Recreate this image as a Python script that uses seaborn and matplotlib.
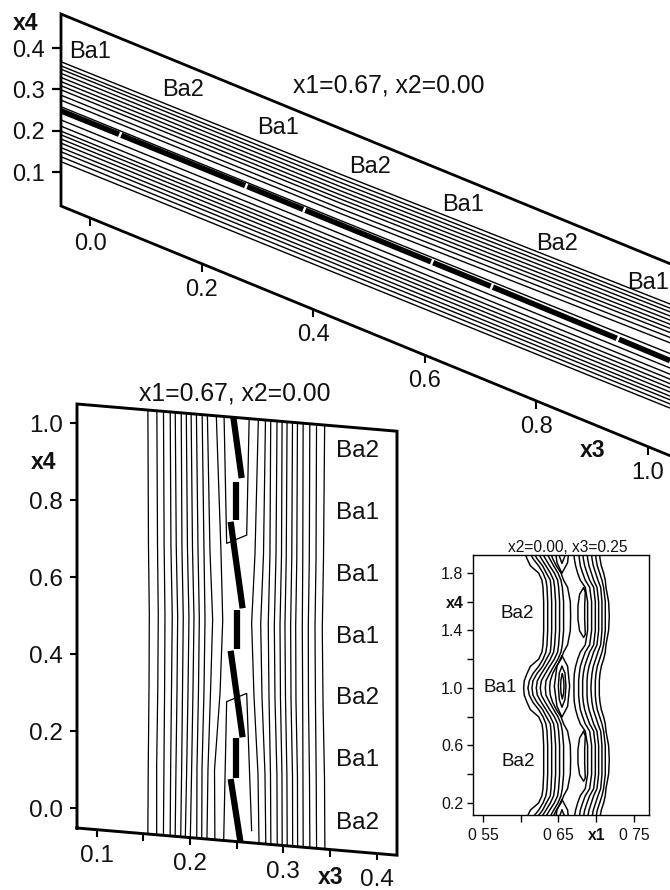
import numpy as np
import matplotlib
matplotlib.use("Agg")
import matplotlib.pyplot as plt
from matplotlib.transforms import Affine2D
from matplotlib.patches import Polygon
import seaborn as sns

sns.set_theme(style="white")
plt.rcParams['font.family'] = ['Liberation Sans', 'DejaVu Sans']

# ---------- panel A: x3 / x4 contour lines ----------
A_X3 = [-0.052, 0.448, 1.0394]
A_THIN = [
    [.367, .372, .385], [.357, .362, .375], [.349, .352, .366], [.339, .342, .356],
    [.329, .332, .346], [.319, .322, .336], [.309, .312, .326], [.299, .302, .316],
    [.286, .289, .304], [.274, .277, .291], [.258, .260, .265],
    [.226, .228, .230], [.211, .213, .215], [.199, .201, .203], [.190, .191, .192],
    [.180, .181, .182], [.170, .171, .172], [.159, .160, .162], [.149, .150, .153],
    [.137, .139, .143], [.125, .128, .133],
]
A_THICK_X3 = [[-.052, .052], [.056, .278], [.282, .382], [.386, .611], [.615, .718], [.722, .944], [.948, 1.0394]]
A_THICK_X4 = [[.248, .249], [.249, .250], [.250, .250], [.250, .250], [.250, .250], [.250, .249], [.249, .248]]
A_XTICKS = [0.0, 0.2, 0.4, 0.6, 0.8, 1.0]
A_YTICKS = [0.1, 0.2, 0.3, 0.4]

# ---------- panel B: x3 / x4 contour lines ----------
B_X4 = [1.15, .70, .52, .33, .13, -.10]
B_LEFT = [
    [.1547, .1555, .1564, .1561, .1553, .1547], [.1643, .1652, .1660, .1655, .1643, .1643],
    [.1714, .1723, .1732, .1728, .1721, .1714], [.1786, .1796, .1810, .1802, .1793, .1786],
    [.1839, .1853, .1868, .1861, .1850, .1839], [.1904, .1914, .1928, .1920, .1911, .1898],
    [.1957, .1973, .1989, .1979, .1965, .1946], [.2008, .2027, .2043, .2032, .2018, .2000],
    [.2064, .2086, .2100, .2091, .2075, .2072], [.2125, .2150, .2161, .2150, .2129, .2125],
    [.2179, .2214, .2243, .2220, .2193, .2179], [.2268, .2332, .2351, .2322, .2263, .2268],
]
B_RIGHT = [
    [.2743, .2697, .2661, .2686, .2729, .2743], [.2815, .2788, .2758, .2772, .2804, .2815],
    [.2868, .2857, .2839, .2847, .2863, .2868], [.2936, .2922, .2904, .2911, .2932, .2936],
    [.2989, .2981, .2965, .2970, .2986, .2989], [.3043, .3032, .3018, .3024, .3039, .3043],
    [.3101, .3091, .3079, .3083, .3099, .3101], [.3154, .3145, .3133, .3136, .3152, .3154],
    [.3214, .3209, .3204, .3208, .3211, .3214], [.3286, .3279, .3268, .3270, .3281, .3286],
    [.3358, .3351, .3340, .3345, .3353, .3358], [.3447, .3431, .3418, .3426, .3442, .3447],
]
B_LOOP_UP_X3 = [.2357, .2393, .2608, .2643]
B_LOOP_UP_X4 = [1.15, .721, .747, 1.15]
B_LOOP_LOW_X3 = [.2357, .2393, .2608, .2661]
B_LOOP_LOW_X4 = [-.10, .310, .336, -.02]
B_THICK = [
    ([.2464, .2554], [1.052, .894]), ([.2496, .2496], [.883, .784]),
    ([.2436, .2564], [.778, .556]), ([.2500, .2500], [.550, .448]),
    ([.2436, .2564], [.443, .221]), ([.2493, .2493], [.217, .113]),
    ([.2436, .2540], [.110, -.050]),
]
B_XTICKS = [0.10, 0.15, 0.20, 0.25, 0.30, 0.35, 0.40]
B_XLABELS = ['0.1', '', '0.2', '', '0.3', '', '0.4']
B_YTICKS = [0.0, 0.2, 0.4, 0.6, 0.8, 1.0]
B_BA = ['Ba2', 'Ba1', 'Ba1', 'Ba1', 'Ba2', 'Ba1', 'Ba2']

# ---------- panel C: x1 / x4 contours (half period, mirrored about x4 = 0.5 and 1.0) ----------
C_H = [.5, .6, .7, .75, .8, .85, .9, .95, 1.0]
C_LEFT = [
    [.6304, .6304, .6295, .6281, .6237, .6127, .6083, .6047, .6039],
    [.6357, .6357, .6348, .6334, .6295, .6237, .6162, .6114, .6096],
    [.6410, .6410, .6401, .6392, .6339, .6290, .6215, .6162, .6149],
    [.6462, .6462, .6449, .6436, .6392, .6334, .6273, .6220, .6206],
    [.6515, .6515, .6502, .6489, .6445, .6383, .6326, .6273, .6259],
    [.6568, .6568, .6551, .6533, .6493, .6436, .6383, .6334, .6326],
    [.6661, .6657, .6621, .6568, .6533, .6471, .6423, .6392, .6383],
]
C_RIGHT = [
    [.6886, .6886, .6855, .6789, .6754, .6727, .6710, .6705, .6705],
    [.6939, .6939, .6913, .6855, .6820, .6789, .6776, .6767, .6767],
    [.6988, .6988, .6966, .6913, .6878, .6847, .6829, .6820, .6820],
    [.7032, .7032, .7010, .6966, .6935, .6904, .6886, .6878, .6878],
    [.7076, .7076, .7059, .7023, .6992, .6961, .6944, .6935, .6930],
    [.7120, .7120, .7098, .7076, .7045, .7014, .6997, .6988, .6988],
    [.7173, .7164, .7129, .7120, .7098, .7067, .7050, .7041, .7041],
]
C_OVAL_X = [.6833, .6780, .6758, .6758, .6780, .6833, .6855, .6847, .6847, .6855, .6833]
C_OVAL_Y = [.699, .652, .571, .478, .397, .351, .374, .478, .571, .664, .699]
C_RING1_X = [.6546, .6621, .6648, .6621, .6546, .6480, .6445, .6480, .6546]
C_RING1_Y = [1.225, 1.151, 1.012, .872, .798, .872, 1.012, 1.151, 1.225]
C_RING2_X = [.6546, .6586, .6599, .6586, .6546, .6511, .6498, .6511, .6546]
C_RING2_Y = [1.151, 1.104, 1.012, .919, .866, .919, 1.012, 1.104, 1.151]
C_RING3_X = [.6551, .6568, .6573, .6568, .6551, .6533, .6529, .6533, .6551]
C_RING3_Y = [1.100, 1.058, 1.012, .965, .923, .965, 1.012, 1.058, 1.100]
C_XTICKS = [0.55, 0.60, 0.65, 0.70, 0.75]
C_XLABELS = ['0 55', '', '0 65', 'x1', '0 75']
C_YTICKS = [0.2, 0.4, 0.6, 0.8, 1.0, 1.2, 1.4, 1.6, 1.8]
C_YLABELS = ['0.2', '', '0.6', '', '1.0', '', '1.4', 'x4', '1.8']

W, H = 670, 890
fig = plt.figure(figsize=(W / 100, H / 100), dpi=100)
fig.patch.set_facecolor('white')


def make_axes(x0, x1, y0, y1):
    ax = fig.add_axes([x0 / W, 1 - y1 / H, (x1 - x0) / W, (y1 - y0) / H])
    ax.patch.set_visible(False)
    for s in ax.spines.values():
        s.set_visible(False)
    return ax


def draw(ax, x, y, lw, tr=None, clip=None, **kw):
    if tr is not None:
        kw['transform'] = tr
    sns.lineplot(x=np.asarray(x, float), y=np.asarray(y, float), sort=False, estimator=None,
                 color='black', linewidth=lw, ax=ax, legend=False, **kw)
    line = ax.lines[-1]
    if clip is not None:
        line.set_clip_path(clip)
    else:
        line.set_clip_on(False)
    return line


def label(px, py, s, size, **kw):
    fig.text(px / W, 1 - py / H, s, fontsize=size, ha='center', va='center', color='#111111', **kw)


def bottom_ticks(ax, tr, xs, labels, bottom, offs, size):
    ys = [bottom] * len(xs)
    ax.plot(xs, ys, ls='', marker=3, ms=offs[0], mew=offs[1], color='black', transform=tr, clip_on=False)
    for v, yv, s in zip(xs, ys, labels):
        if s:
            ax.annotate(s, xy=(v, yv), xycoords=tr, xytext=(0, offs[2]), textcoords='offset points',
                        ha='center', va='center', fontsize=size, color='#111111')


def finish(ax, xlim, ylim):
    ax.set_xlim(*xlim)
    ax.set_ylim(*ylim)
    ax.set_xlabel('')
    ax.set_ylabel('')


# ===== panel A =====
axA = make_axes(61, 670, 14, 456)
a_xmin, a_xmax = -0.052, 1.0394
a_top, a_bot = 0.4826, 0.0177
a_s = 0.554
trA = Affine2D.from_values(1, -a_s, 0, 1, 0, a_s * a_xmin) + axA.transData
clipA = Polygon([(a_xmin, a_bot), (a_xmax, a_bot), (a_xmax, a_top), (a_xmin, a_top)], transform=trA)
for row in A_THIN:
    draw(axA, A_X3, row, 1.0, tr=trA, clip=clipA)
for xs, ys in zip(A_THICK_X3, A_THICK_X4):
    draw(axA, xs, ys, 4.0, tr=trA, clip=clipA, solid_capstyle='butt')
draw(axA, [a_xmax, a_xmin, a_xmin, a_xmax], [a_top, a_top, a_bot, a_bot], 2.0, tr=trA,
     solid_joinstyle='miter')
finish(axA, (a_xmin, a_xmax), (-0.5877, a_top))
axA.set_xticks([])
axA.set_yticks(A_YTICKS, [f'{v:.1f}' for v in A_YTICKS])
axA.tick_params(axis='y', left=True, length=6.5, width=1.6, pad=5.0, labelsize=17, color='black', labelcolor='#111111')
bottom_ticks(axA, trA, A_XTICKS, [f'{v:.1f}' for v in A_XTICKS], a_bot, (5.5, 1.5, -18.7), 17)

for (px, py, s) in [(90, 52, 'Ba1'), (183, 90, 'Ba2'), (278, 128, 'Ba1'), (370, 167, 'Ba2'),
                    (463, 205, 'Ba1'), (557, 244, 'Ba2'), (648, 283, 'Ba1')]:
    label(px, py, s, 17)
label(389, 85, 'x1=0.67, x2=0.00', 17.8)
label(26, 24, 'x4', 16.5, fontweight='bold')
label(593, 451, 'x3', 16.5, fontweight='bold')

# ===== panel B =====
axB = make_axes(77, 397, 404, 855)
b_xmin, b_xmax = 0.0789, 0.4219
b_top, b_bot = 1.05, -0.0512
b_s = 0.206
trB = Affine2D.from_values(1, -b_s, 0, 1, 0, b_s * b_xmin) + axB.transData
clipB = Polygon([(b_xmin, b_bot), (b_xmax, b_bot), (b_xmax, b_top), (b_xmin, b_top)], transform=trB)
for row in B_LEFT + B_RIGHT:
    draw(axB, row, B_X4, 0.9, tr=trB, clip=clipB)
draw(axB, B_LOOP_UP_X3, B_LOOP_UP_X4, 0.9, tr=trB, clip=clipB, solid_joinstyle='miter')
draw(axB, B_LOOP_LOW_X3, B_LOOP_LOW_X4, 0.9, tr=trB, clip=clipB, solid_joinstyle='miter')
for xs, ys in B_THICK:
    draw(axB, xs, ys, 4.5, tr=trB, clip=clipB, solid_capstyle='butt')
draw(axB, [b_xmin, b_xmax, b_xmax, b_xmin, b_xmin],
     [b_bot, b_bot, b_top, b_top, b_bot], 2.1, tr=trB, solid_joinstyle='miter', solid_capstyle='projecting')
finish(axB, (b_xmin, b_xmax), (-0.1213, b_top))
axB.set_xticks([])
axB.set_yticks(B_YTICKS, [f'{v:.1f}' for v in B_YTICKS])
axB.tick_params(axis='y', left=True, length=5, width=1.5, pad=5.2, labelsize=17.5, color='black', labelcolor='#111111')
bottom_ticks(axB, trB, B_XTICKS, B_XLABELS, b_bot, (5, 1.5, -19.3), 17.5)

for py, s in zip([451, 513, 575, 637, 698, 760, 823], B_BA):
    label(358, py, s, 17.5)
label(235, 394, 'x1=0.67, x2=0.00', 17.8)
label(44, 463, 'x4', 16.5, fontweight='bold')
label(331, 877, 'x3', 16.5, fontweight='bold')


# ===== panel C =====
axC = make_axes(473, 649, 555, 815)


def full_period(row):
    r = np.asarray(row, float)
    h = np.asarray(C_H, float)
    xs = np.concatenate([r[::-1], r[1:], r[::-1][1:], r[1:]])
    ys = np.concatenate([1 - h[::-1], h[1:], 2 - h[::-1][1:], 1 + h[1:]])
    return xs, ys


for row in C_LEFT + C_RIGHT:
    xs, ys = full_period(row)
    line = draw(axC, xs, ys, 1.05, clip=None)
    line.set_clip_on(True)
for dy in (0.0, 1.0):
    line = draw(axC, C_OVAL_X, np.asarray(C_OVAL_Y) + dy, 1.05)
    line.set_clip_on(True)
for dy in (-1.0, 0.0, 1.0):
    for rx, ry in ((C_RING1_X, C_RING1_Y), (C_RING2_X, C_RING2_Y), (C_RING3_X, C_RING3_Y)):
        line = draw(axC, rx, np.asarray(ry) + dy, 1.05)
        line.set_clip_on(True)
finish(axC, (0.5368, 0.7699), (0.1165, 1.925))
for s in axC.spines.values():
    s.set_visible(True)
    s.set_linewidth(1.0)
    s.set_color('black')
axC.set_xticks(C_XTICKS, C_XLABELS)
axC.set_yticks(C_YTICKS, C_YLABELS)
axC.tick_params(axis='x', bottom=True, length=5, width=1.0, pad=4.5, labelsize=11.3, color='black', labelcolor='#111111')
axC.tick_params(axis='y', left=True, length=4.5, width=1.0, pad=2.5, labelsize=11.5, color='black', labelcolor='#111111')
for t in axC.get_xticklabels() + axC.get_yticklabels():
    if t.get_text() in ('x1', 'x4'):
        t.set_fontweight('bold')
label(517, 613, 'Ba2', 13.5)
label(500, 687, 'Ba1', 13.5)
label(518, 761, 'Ba2', 13.5)
label(568, 547, 'x2=0.00, x3=0.25', 11.2)

fig.savefig('out.png', dpi=100, facecolor='white')
